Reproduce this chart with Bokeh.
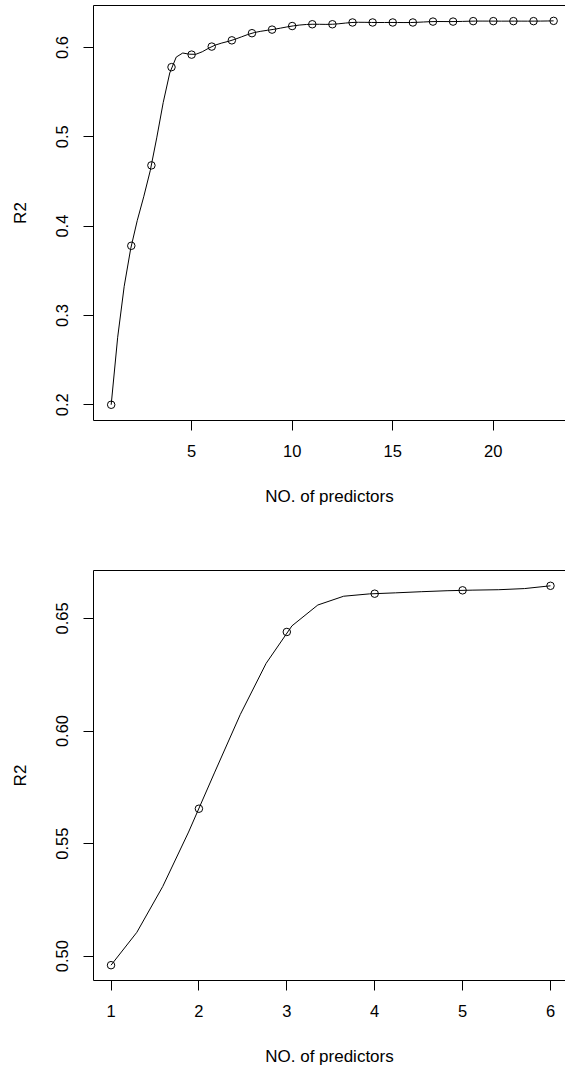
import numpy as np
from bokeh.plotting import figure
from bokeh.layouts import column
from bokeh.models import LinearAxis, FixedTicker, Range1d
from bokeh.embed import file_html
from bokeh.resources import INLINE

# R2 of the best model for each number of predictors (full candidate set)
n_pred_all = list(range(1, 24))
r2_all = [0.200, 0.378, 0.468, 0.578, 0.592, 0.601, 0.608, 0.616, 0.620, 0.624,
          0.626, 0.626, 0.628, 0.628, 0.628, 0.628, 0.629, 0.629, 0.6295, 0.6295,
          0.6295, 0.6295, 0.6298]
x_ticks_all = [5, 10, 15, 20]
y_ticks_all = [0.2, 0.3, 0.4, 0.5, 0.6]
y_labels_all = ["0.2", "0.3", "0.4", "0.5", "0.6"]

# R2 for the reduced candidate set
n_pred_sub = [1, 2, 3, 4, 5, 6]
r2_sub = [0.496, 0.5655, 0.644, 0.661, 0.6625, 0.6645]
x_ticks_sub = [1, 2, 3, 4, 5, 6]
y_ticks_sub = [0.50, 0.55, 0.60, 0.65]
y_labels_sub = ["0.50", "0.55", "0.60", "0.65"]

x_title = "NO. of predictors"
y_title = "R2"

FONT = "Liberation Sans"


def fmm_spline(x, y, n_out):
    """Cubic interpolating spline with Forsythe-Malcolm-Moler end conditions,
    evaluated on n_out evenly spaced abscissae (same as R's spline())."""
    x = np.asarray(x, float)
    y = np.asarray(y, float)
    n = len(x)
    nm1 = n - 1
    b = np.zeros(n)
    c = np.zeros(n)
    d = np.zeros(n)
    d[0] = x[1] - x[0]
    c[1] = (y[1] - y[0]) / d[0]
    for i in range(1, nm1):
        d[i] = x[i + 1] - x[i]
        b[i] = 2.0 * (d[i - 1] + d[i])
        c[i + 1] = (y[i + 1] - y[i]) / d[i]
        c[i] = c[i + 1] - c[i]
    b[0] = -d[0]
    b[nm1] = -d[n - 2]
    c[0] = c[nm1] = 0.0
    if n > 3:
        c[0] = c[2] / (x[3] - x[1]) - c[1] / (x[2] - x[0])
        c[nm1] = c[n - 2] / (x[nm1] - x[n - 3]) - c[n - 3] / (x[n - 2] - x[n - 4])
        c[0] = c[0] * d[0] * d[0] / (x[3] - x[0])
        c[nm1] = -c[nm1] * d[n - 2] * d[n - 2] / (x[nm1] - x[n - 4])
    for i in range(1, n):
        t = d[i - 1] / b[i - 1]
        b[i] = b[i] - t * d[i - 1]
        c[i] = c[i] - t * c[i - 1]
    c[nm1] = c[nm1] / b[nm1]
    for i in range(n - 2, -1, -1):
        c[i] = (c[i] - d[i] * c[i + 1]) / b[i]
    b[nm1] = (y[nm1] - y[n - 2]) / d[n - 2] + d[n - 2] * (c[n - 2] + 2.0 * c[nm1])
    for i in range(nm1):
        b[i] = (y[i + 1] - y[i]) / d[i] - d[i] * (c[i + 1] + 2.0 * c[i])
        d[i] = (c[i + 1] - c[i]) / d[i]
        c[i] = 3.0 * c[i]
    c[nm1] = 3.0 * c[nm1]
    d[nm1] = d[n - 2]

    u = np.linspace(x[0], x[-1], n_out)
    idx = np.clip(np.searchsorted(x, u, side="right") - 1, 0, nm1)
    dx = u - x[idx]
    v = y[idx] + dx * (b[idx] + dx * (c[idx] + dx * d[idx]))
    return u, v


def style_axis(ax, font_size="16.5px"):
    ax.axis_line_color = "black"
    ax.axis_line_width = 1
    ax.major_tick_line_color = "black"
    ax.major_tick_out = 10
    ax.major_tick_in = 0
    ax.minor_tick_out = 0
    ax.minor_tick_in = 0
    ax.major_label_text_font = FONT
    ax.major_label_text_font_size = font_size
    ax.major_label_text_color = "black"
    ax.axis_label_text_font = FONT
    ax.axis_label_text_font_size = "17px"
    ax.axis_label_text_font_style = "normal"
    ax.axis_label_text_color = "black"


def panel(xs, ys, xticks, yticks, ylabels, xr, yr, height, top, bottom, left):
    p = figure(width=565, height=height, output_backend="svg", toolbar_location=None,
               x_range=Range1d(*xr), y_range=Range1d(*yr),
               min_border_top=top, min_border_bottom=bottom,
               min_border_left=left, min_border_right=0)
    p.outline_line_color = None
    p.grid.visible = False
    p.background_fill_color = "white"
    p.border_fill_color = "white"

    xa = p.xaxis[0]
    style_axis(xa)
    xa.ticker = FixedTicker(ticks=xticks)
    xa.axis_label = x_title
    xa.major_label_standoff = 14
    xa.axis_label_standoff = 27

    ya = p.yaxis[0]
    style_axis(ya)
    ya.ticker = FixedTicker(ticks=yticks)
    ya.major_label_overrides = {t: s for t, s in zip(yticks, ylabels)}
    ya.major_label_orientation = "vertical"
    ya.axis_label = y_title
    ya.major_label_standoff = 15
    ya.axis_label_standoff = 24

    # top edge of the plot box
    top_ax = LinearAxis(ticker=FixedTicker(ticks=[]), axis_line_color="black",
                        major_tick_out=0, major_tick_in=0, minor_tick_out=0,
                        minor_tick_in=0, major_label_standoff=0,
                        major_label_text_font_size="0px")
    p.add_layout(top_ax, "above")

    sx, sy = fmm_spline(xs, ys, 3 * len(xs))
    p.line(sx, sy, line_color="black", line_width=1)
    p.scatter(xs, ys, marker="circle", size=7.5, fill_color=None,
              line_color="black", line_width=1)
    return p


p1 = panel(n_pred_all, r2_all, x_ticks_all, y_ticks_all, y_labels_all,
           (0.121, 23.59), (0.1824, 0.647), 540, 5, 120, 92)
p2 = panel(n_pred_sub, r2_sub, x_ticks_sub, y_ticks_sub, y_labels_sub,
           (0.8007, 6.171), (0.4892, 0.6713), 528, 30, 88, 93)

p = column(p1, p2, spacing=0)
open("out.html", "w").write(file_html(p, INLINE))
